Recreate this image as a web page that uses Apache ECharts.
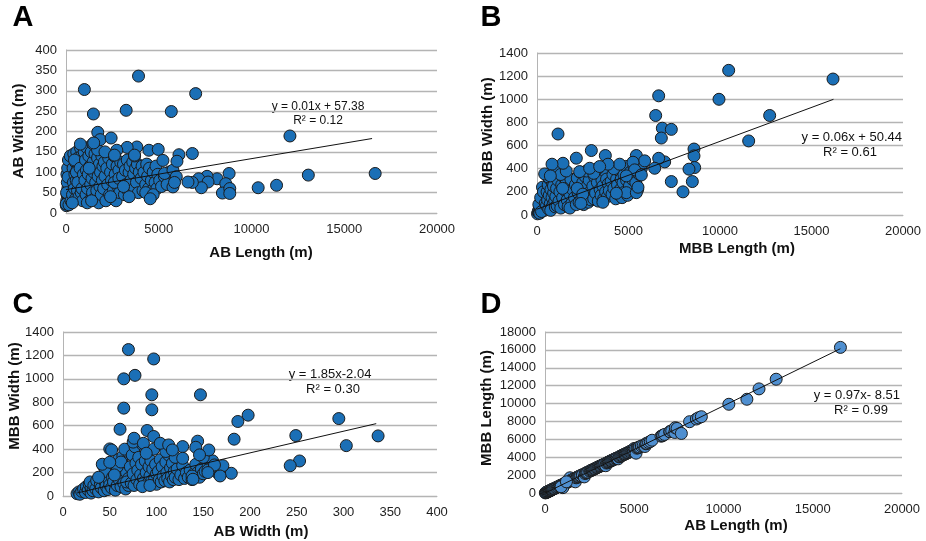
<!DOCTYPE html>
<html>
<head>
<meta charset="utf-8">
<script src="https://cdn.jsdelivr.net/npm/echarts@6/dist/echarts.min.js"></script>
<style>
  html, body { margin: 0; padding: 0; background: #ffffff; }
  #chart { width: 926px; height: 541px; }
</style>
</head>
<body>
<div id="chart"></div>
<script>
// Panel A: AB length (m) vs AB width (m)
const abLengthVsWidth = [
  [20,18],[40,30],[60,45],[80,25],[100,60],[120,40],[150,80],[180,35],[200,100],[220,55],[250,70],[260,120],[280,90],[300,140],[50,95],[90,110],[130,130],[170,65],[230,140],[70,75],[10,22],[30,50],[160,20],[110,88],[270,30],
  [350,45],[380,110],[400,75],[420,145],[450,60],[480,95],[500,125],[520,35],[550,80],[580,150],[600,105],[620,55],[650,135],[680,90],[700,40],[720,120],[750,70],[780,160],[800,100],[820,50],[850,140],[880,85],[900,30],[920,115],[950,65],[980,150],[340,25],[460,130],[560,100],[640,75],[760,110],[860,60],[940,95],
  [1020,80],[1050,130],[1080,45],[1100,105],[1130,160],[1160,60],[1200,95],[1230,140],[1260,30],[1300,115],[1330,70],[1360,150],[1400,85],[1430,50],[1460,125],[1500,100],[1530,35],[1560,145],[1600,75],[1630,110],[1660,55],[1700,135],[1730,90],[1760,25],[1800,120],[1830,65],[1860,100],[1900,45],[1930,140],[1960,80],[1990,115],[1150,25],[1450,170],[1380,30],[1700,155],[1250,110],
  [2030,60],[2070,125],[2100,90],[2150,30],[2200,110],[2250,70],[2300,135],[2350,45],[2400,100],[2450,80],[2500,120],[2550,55],[2600,140],[2650,95],[2700,30],[2750,115],[2800,65],[2850,105],[2900,50],[2950,125],[2100,150],[2600,75],[2400,40],[2850,85],
  [3050,90],[3100,120],[3150,45],[3200,105],[3250,70],[3300,130],[3350,55],[3400,100],[3450,115],[3500,80],[3550,50],[3600,125],[3650,95],[3700,60],[3750,110],[3800,75],[3850,120],[3900,50],[3950,100],[3400,40],[3700,140],[3100,65],
  [4050,85],[4100,115],[4150,55],[4200,100],[4300,70],[4350,120],[4400,90],[4450,60],[4500,110],[4600,80],[4650,55],[4700,100],[4800,75],[4850,115],[4900,60],[4950,95],[4300,50],[4700,45],[4541,35],
  [5050,80],[5150,65],[5300,90],[5450,70],[5586,101],[5315,97],[5766,105],[5946,89],[5766,64],[5850,75],
  [991,303],[3910,336],[6991,293],[3243,252],[5676,249],[1477,243],[12072,189],[1712,198],[1838,180],[2432,184],[775,169],[3820,162],[3297,161],[4468,154],[4973,156],[2739,154],[1495,172],[6811,146],[6090,143],[5982,127],[5225,129],[3694,142],[2613,142],
  [16667,97],[13063,93],[11351,68],[10360,62],[8793,97],[8144,84],[7604,90],[7153,84],[7658,76],[7297,62],[6811,75],[6577,76],[8613,72],[8432,49],[8829,60],[8829,48]
];

// Panel B: MBB length (m) vs MBB width (m)
const mbbLengthVsWidth = [
  [30,10],[60,25],[90,40],[120,20],[150,60],[180,35],[200,80],[230,50],[260,110],[290,70],[320,140],[350,90],[380,180],[410,120],[440,220],[470,60],[490,160],[100,90],[200,150],[300,240],[400,40],[150,15],[250,30],[350,200],[450,100],
  [520,80],[550,200],[580,130],[610,260],[640,50],[670,170],[700,310],[730,100],[760,220],[790,60],[820,150],[850,280],[880,90],[910,190],[940,350],[970,120],[600,330],[750,40],[900,250],[1000,70],
  [1030,160],[1070,230],[1100,80],[1150,300],[1200,120],[1250,200],[1300,60],[1350,260],[1400,150],[1450,330],[1500,90],[1550,210],[1600,280],[1650,130],[1700,70],[1750,240],[1800,180],[1850,310],[1900,100],[1950,220],[1100,400],[1300,350],[1600,380],[1800,60],[1400,230],
  [2050,150],[2100,260],[2150,90],[2200,320],[2250,190],[2300,110],[2350,370],[2400,230],[2450,140],[2500,280],[2550,90],[2600,200],[2650,330],[2700,160],[2750,250],[2800,110],[2850,300],[2900,200],[2950,130],[2200,230],[2500,180],[2700,380],[2400,100],
  [3050,250],[3100,140],[3150,330],[3200,190],[3300,280],[3350,120],[3400,360],[3450,220],[3500,170],[3550,300],[3600,250],[3650,140],[3700,380],[3750,200],[3800,310],[3850,160],[3900,270],[3950,210],[3300,400],[3600,110],[3100,360],
  [4050,290],[4100,180],[4150,350],[4200,230],[4300,140],[4350,310],[4400,260],[4450,180],[4500,380],[4550,220],[4600,310],[4650,150],[4700,280],[4750,350],[4800,200],[4850,420],[4900,300],[4950,170],[4200,400],
  [5050,250],[5100,370],[5200,310],[5300,420],[5400,280],[5500,220],[5600,350],[5700,400],[5800,450],
  [10474,1250],[16175,1175],[6649,1030],[9945,1000],[6485,860],[12714,860],[6849,750],[7340,740],[6794,665],[11567,640],[1148,700],
  [8579,570],[8579,511],[8616,410],[8306,396],[6976,459],[6649,490],[6430,404],[7340,289],[8488,289],[7978,200],
  [2969,557],[3734,514],[5428,514],[5883,468],[2149,491],[4517,439],[3880,439],[1421,447],[820,439],[5246,456],[5337,390],[419,355],[729,338],[2332,375],[2878,404],[3424,419],[4881,338],[5701,346],[4881,193],[5428,193],[5519,240],[4335,188]
];

// Panel C: AB width (m) vs MBB width (m)
const abWidthVsMbbWidth = [
  [15,20],[17,35],[18,15],[20,40],[22,60],[24,30],[25,80],[27,50],[28,100],[30,25],[30,70],[29,120],
  [32,45],[33,90],[35,60],[36,130],[38,35],[40,100],[41,70],[42,150],[43,260],[44,45],[45,120],[46,85],[47,190],[48,55],[49,140],[50,230],[50,95],[45,210],[38,160],
  [52,70],[53,160],[54,120],[55,270],[56,50],[57,200],[58,90],[59,310],[60,140],[61,230],[62,80],[63,180],[64,340],[65,110],[66,260],[67,60],[68,200],[69,380],[70,150],[70,90],[58,250],[62,290],[66,400],[68,120],[55,180],
  [72,250],[73,110],[74,350],[75,190],[76,90],[77,420],[78,280],[79,140],[80,220],[81,330],[82,100],[83,180],[84,270],[85,440],[86,150],[87,120],[88,300],[89,200],[90,360],[91,110],[92,250],[93,170],[94,300],[95,130],[96,230],[97,400],[98,150],[99,270],[100,100],[100,190],[85,80],[93,90],[75,460],
  [102,210],[103,140],[104,310],[105,120],[106,250],[107,170],[108,430],[109,130],[110,290],[111,200],[112,150],[113,350],[114,120],[115,240],[116,170],[117,280],[118,140],[119,210],[120,160],[122,230],[124,140],[126,180],[128,260],[130,150],[110,380],[120,330],
  [132,200],[134,160],[136,220],[138,140],[140,190],[142,270],[144,200],[146,160],[148,230],[150,190],[152,210],[155,280],[158,250],[160,300],[163,230],[165,200],[168,180],[150,330],[138,170],
  [70,1250],[97,1170],[77,1030],[65,1000],[95,864],[147,864],[65,750],[95,736],[198,690],[187,636],[295,661],[61,570],[337,513],[249,516],[303,430],[253,299],[243,259],[183,485],[180,194],[171,259],[168,171],
  [156,393],[144,468],[142,416],[146,351],[128,422],[128,322],[90,559],[97,508],[104,450],[113,436],[117,393],[76,493],[86,450],[50,402],[52,393],[42,271],[50,288],[89,365],[155,222],[162,265],[139,143],[155,200]
];

// Panel D: AB length (m) vs MBB length (m)
const abLengthVsMbbLength = [
  [20,10],[50,40],[70,60],[100,90],[120,100],[150,160],[180,170],[200,180],[230,210],[250,240],[280,260],[300,280],[330,300],[350,340],[380,360],[400,370],[430,420],[450,450],[500,480],[550,520],[600,570],[650,630],[700,690],[750,700],[800,760],[850,830],[900,880],[950,900],[1000,950],[1050,1000],[1100,1080],[1150,1100],[1200,1150],[1250,1200],[1300,1260],[1350,1300],[1400,1700],[1450,1400],[1500,1450],[1550,1500],[1600,1560],[1650,1600],[1700,1250],[1750,1700],[1800,1760],[1850,1800],[1900,1850],[1950,1900],[1000,600],[900,700],[1200,1250],
  [2000,1950],[2100,2060],[2100,1990],[2200,1800],[2250,2180],[2300,2240],[2350,2290],[2400,2330],[2500,2450],[2550,2480],[2600,2540],[2650,2580],[2700,2620],[2750,2670],[2800,2720],[2850,2780],[2900,2830],[2950,2870],
  [3000,2920],[3050,2970],[3100,3010],[3150,3060],[3200,3110],[3250,3150],[3300,3200],[3350,3250],[3400,3050],[3450,3350],[3500,3400],[3550,3450],[3600,3500],[3650,3550],[3700,3600],[3750,3650],[3800,3690],[3850,3750],[3900,3780],[3950,3850],
  [4000,3880],[4050,3940],[4100,3820],[4150,4030],[4200,4080],[4250,4130],[4300,4180],[4350,4230],[4400,4290],[4450,4330],[4500,4370],[4550,4420],[4600,4470],[4650,4520],[4700,4560],[4750,4620],[4800,4680],[4850,4720],[4900,4760],[4950,4820],
  [5000,4980],[5050,4920],[5100,4450],[5150,5010],[5200,5060],[5250,5100],[5300,5150],[5400,5250],[5500,5300],[5600,5200],[5650,5500],[5700,5550],[5800,5650],[5900,5750],[6000,5900],
  [6500,6350],[6580,6400],[6600,6450],[6700,6550],[6990,6850],[7000,6850],[7100,6950],[7270,6770],[7300,7300],[7400,7220],[7640,6660],[8100,7970],[8480,8270],[8600,8400],[8760,8530],
  [10300,9920],[11310,10480],[11990,11640],[12950,12720],[16550,16280]
];

// Least-squares trend lines: [slope, intercept, xStart, xEnd]
const trendA = [0.0076, 57.38, 0, 16500];
const trendB = [0.0586, 50.44, 0, 16200];
const trendC = [1.85, -2.04, 15, 335];
const trendD = [0.975, -8.51, 0, 16550];

// Equation text for each panel
const eqA = ['y = 0.01x + 57.38', 'R² = 0.12'];
const eqB = ['y = 0.06x + 50.44', 'R² = 0.61'];
const eqC = ['y = 1.85x-2.04', 'R² = 0.30'];
const eqD = ['y = 0.97x- 8.51', 'R² = 0.99'];

// Axis ranges: [min, max, interval]
const xRangeA = [0, 20000, 5000], yRangeA = [0, 400, 50];
const xRangeB = [0, 20000, 5000], yRangeB = [0, 1400, 200];
const xRangeC = [0, 400, 50],     yRangeC = [0, 1400, 200];
const xRangeD = [0, 20000, 5000], yRangeD = [0, 18000, 2000];

const FONT = '"Liberation Sans", Arial, sans-serif';
const GRID_LINE = '#b4b4b4';

function trendPoints(t) {
  return [[t[2], t[0] * t[2] + t[1]], [t[3], t[0] * t[3] + t[1]]];
}
const plainNumber = v => String(v);

function xAxisOf(idx, r) {
  return {
    gridIndex: idx, type: 'value', min: r[0], max: r[1], interval: r[2],
    axisLine: { show: true, lineStyle: { color: GRID_LINE, width: 1 } },
    axisTick: { show: false },
    splitLine: { show: false },
    axisLabel: { color: '#1e1e1e', fontFamily: FONT, fontSize: 13, margin: 10, formatter: plainNumber }
  };
}
function yAxisOf(idx, r) {
  return {
    gridIndex: idx, type: 'value', min: r[0], max: r[1], interval: r[2],
    axisLine: { show: true, lineStyle: { color: GRID_LINE, width: 1 } },
    axisTick: { show: false },
    splitLine: { show: true, lineStyle: { color: GRID_LINE, width: 1.3 } },
    axisLabel: { color: '#1e1e1e', fontFamily: FONT, fontSize: 13, margin: 9, formatter: plainNumber }
  };
}
function scatterOf(idx, data, fill) {
  return {
    type: 'scatter', xAxisIndex: idx, yAxisIndex: idx, data: data,
    symbolSize: 12, silent: true, z: 2,
    itemStyle: { color: fill, opacity: 1, borderColor: '#1b1b1b', borderWidth: 1 }
  };
}
function trendOf(idx, t) {
  return {
    type: 'line', xAxisIndex: idx, yAxisIndex: idx, data: trendPoints(t),
    symbol: 'none', silent: true, z: 3,
    lineStyle: { color: '#111111', width: 1 }
  };
}
function text(x, y, str, opts) {
  return {
    type: 'text', x: x, y: y, silent: true,
    style: Object.assign({
      text: str, fill: '#111111', fontFamily: FONT, fontSize: 13,
      align: 'center', verticalAlign: 'middle'
    }, opts || {})
  };
}
function vtext(x, y, str) {
  return {
    type: 'text', x: x, y: y, rotation: Math.PI / 2, silent: true,
    style: { text: str, fill: '#111111', fontFamily: FONT, fontSize: 15, fontWeight: 'bold',
      align: 'center', verticalAlign: 'middle' }
  };
}
const titleStyle = { fontSize: 15, fontWeight: 'bold' };
const letterStyle = { fontSize: 29, fontWeight: 'bold', fill: '#000000' };

const chart = echarts.init(document.getElementById('chart'), null, { renderer: 'canvas' });
chart.setOption({
  animation: false,
  backgroundColor: '#ffffff',
  grid: [
    { left: 66, top: 50, width: 371, height: 163 },
    { left: 537, top: 53, width: 366, height: 162 },
    { left: 63, top: 332, width: 374, height: 164 },
    { left: 545, top: 332, width: 357, height: 161 }
  ],
  xAxis: [xAxisOf(0, xRangeA), xAxisOf(1, xRangeB), xAxisOf(2, xRangeC), xAxisOf(3, xRangeD)],
  yAxis: [yAxisOf(0, yRangeA), yAxisOf(1, yRangeB), yAxisOf(2, yRangeC), yAxisOf(3, yRangeD)],
  series: [
    scatterOf(0, abLengthVsWidth, '#1b6fb6'),
    trendOf(0, trendA),
    scatterOf(1, mbbLengthVsWidth, '#1b6fb6'),
    trendOf(1, trendB),
    scatterOf(2, abWidthVsMbbWidth, '#1b6fb6'),
    trendOf(2, trendC),
    scatterOf(3, abLengthVsMbbLength, '#4f8fd0'),
    trendOf(3, trendD)
  ],
  graphic: [
    text(23, 18, 'A', letterStyle),
    text(491, 18, 'B', letterStyle),
    text(23, 305, 'C', letterStyle),
    text(491, 305, 'D', letterStyle),

    vtext(19, 131, 'AB Width (m)'),
    text(261, 253, 'AB Length (m)', titleStyle),
    vtext(488, 131, 'MBB Width (m)'),
    text(737, 249, 'MBB Length (m)', titleStyle),
    vtext(15, 396, 'MBB Width (m)'),
    text(261, 532, 'AB Width (m)', titleStyle),
    vtext(487, 408, 'MBB Length (m)'),
    text(736, 526, 'AB Length (m)', titleStyle),

    text(318, 107, eqA[0], { fontSize: 12 }),
    text(318, 121, eqA[1], { fontSize: 12 }),
    text(902, 137, eqB[0], { align: 'right' }),
    text(850, 152, eqB[1]),
    text(330, 374, eqC[0]),
    text(333, 389, eqC[1]),
    text(900, 395, eqD[0], { align: 'right' }),
    text(861, 410, eqD[1])
  ]
});
</script>
</body>
</html>
